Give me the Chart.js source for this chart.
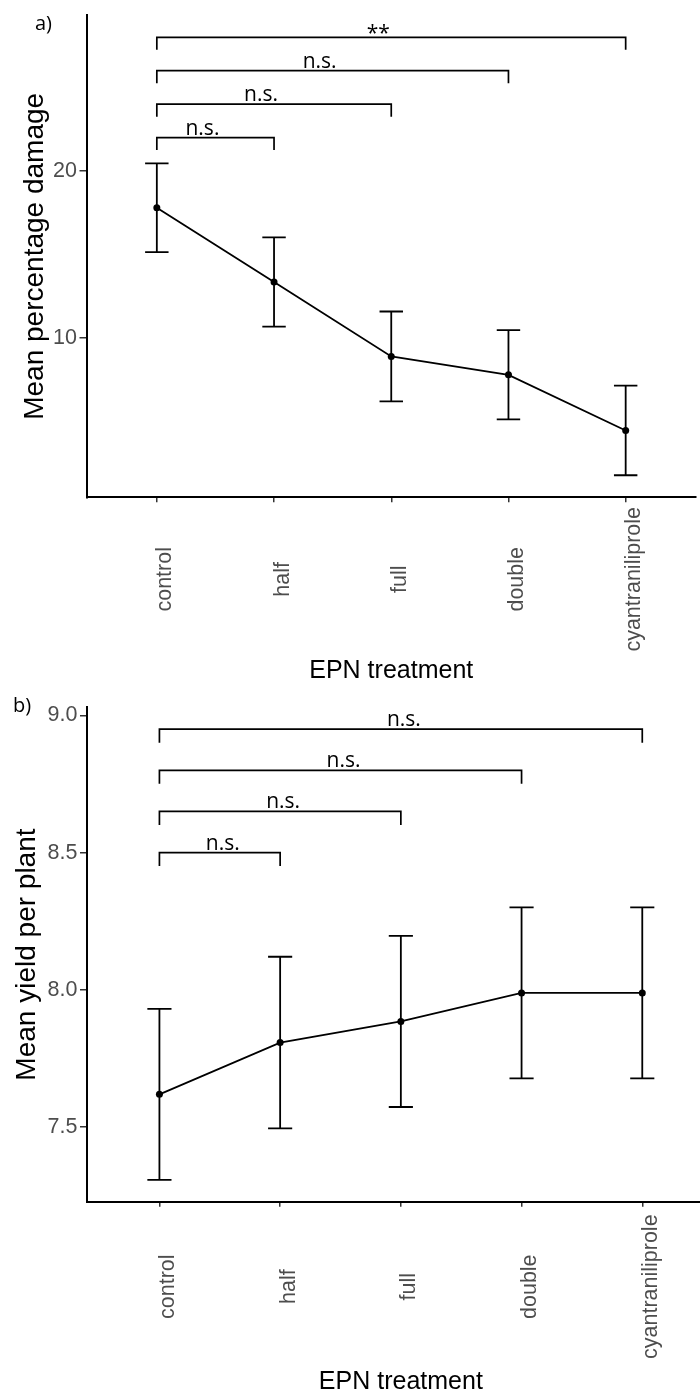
<!DOCTYPE html>
<html>
<head>
<meta charset="utf-8">
<script src="https://cdn.jsdelivr.net/npm/chart.js@4.4.1/dist/chart.umd.min.js"></script>
<style>
  html, body { margin: 0; padding: 0; background: #fff; overflow: hidden; }
  body { width: 700px; height: 1396px; position: relative; }
  canvas { position: absolute; left: 0; }
  #damageChart { top: 0; }
  #yieldChart { top: 692px; }
</style>
</head>
<body>
<canvas id="damageChart" width="700" height="692"></canvas>
<canvas id="yieldChart" width="720" height="704"></canvas>
<script>
const treatments = ['control', 'half', 'full', 'double', 'cyantraniliprole']

// a) damage
const damageMean = [17.8, 13.35, 8.9, 7.8, 4.47]
const damageSE = [2.66, 2.67, 2.69, 2.67, 2.68]
const damageTicks = [10, 20]
const damagePairs = [[0, 1], [0, 2], [0, 3], [0, 4]]
const damageBracketY = [22, 24, 26, 28]
const damageSig = ['n.s.', 'n.s.', 'n.s.', '**']

// b) yield
const yieldMean = [7.618, 7.807, 7.884, 7.988, 7.988]
const yieldSE = [0.312, 0.313, 0.312, 0.312, 0.312]
const yieldTicks = [7.5, 8.0, 8.5, 9.0]
const yieldPairs = [[0, 1], [0, 2], [0, 3], [0, 4]]
const yieldBracketY = [8.5, 8.65, 8.8, 8.95]
const yieldSig = ['n.s.', 'n.s.', 'n.s.', 'n.s.']

const arial = '"Liberation Sans", Arial, sans-serif'
const sigFont = '21px "Open Sans", sans-serif'

const extras = {
    id: 'extras',
    beforeDatasetsDraw(chart, args, o) {
        const ctx = chart.ctx
        const x = chart.scales.x, y = chart.scales.y
        ctx.save()
        ctx.strokeStyle = '#000'
        ctx.lineWidth = 1.8
        o.mean.forEach((m, i) => {
            const px = x.getPixelForValue(i)
            const lo = y.getPixelForValue(m - o.se[i])
            const hi = y.getPixelForValue(m + o.se[i])
            const l = x.getPixelForValue(i - 0.1), r = x.getPixelForValue(i + 0.1)
            ctx.beginPath()
            ctx.moveTo(px, lo); ctx.lineTo(px, hi)
            ctx.moveTo(l, lo); ctx.lineTo(r, lo)
            ctx.moveTo(l, hi); ctx.lineTo(r, hi)
            ctx.stroke()
        })
        ctx.restore()
    },
    afterDraw(chart, args, o) {
        const ctx = chart.ctx
        const x = chart.scales.x, y = chart.scales.y
        ctx.save()
        // significance brackets
        ctx.strokeStyle = '#000'
        ctx.lineWidth = 1.7
        ctx.fillStyle = '#000'
        ctx.font = sigFont
        ctx.textAlign = 'center'
        ctx.textBaseline = 'alphabetic'
        o.pairs.forEach((p, k) => {
            const x1 = x.getPixelForValue(p[0]), x2 = x.getPixelForValue(p[1])
            const py = y.getPixelForValue(o.bracketY[k])
            ctx.beginPath()
            ctx.moveTo(x1, py + o.tip); ctx.lineTo(x1, py)
            ctx.lineTo(x2, py); ctx.lineTo(x2, py + o.tip)
            ctx.stroke()
            const m = ctx.measureText(o.sig[k])
            ctx.fillText(o.sig[k], (x1 + x2) / 2 + o.shift, py - 3 - m.actualBoundingBoxDescent)
        })
        // rotated category labels
        ctx.font = '21.5px ' + arial
        ctx.fillStyle = '#4D4D4D'
        treatments.forEach((t, i) => {
            ctx.save()
            ctx.translate(x.getPixelForValue(i) + 14.5, chart.chartArea.bottom + o.labelMid)
            ctx.rotate(-Math.PI / 2)
            ctx.fillText(t, 0, 0)
            ctx.restore()
        })
        // panel tag
        ctx.font = '20px "Open Sans", sans-serif'
        ctx.fillStyle = '#000'
        ctx.textAlign = 'left'
        ctx.fillText(o.tag, o.tagX, o.tagY)
        ctx.restore()
    }
}

function makeChart(id, o) {
    return new Chart(document.getElementById(id), {
        type: 'line',
        data: {
            datasets: [{
                data: o.mean.map((v, i) => ({ x: i, y: v })),
                borderColor: '#000',
                borderWidth: 1.8,
                pointRadius: 3.5,
                pointBackgroundColor: '#000',
                pointBorderWidth: 0,
                tension: 0
            }]
        },
        options: {
            responsive: false,
            animation: false,
            layout: { padding: o.padding },
            plugins: {
                legend: { display: false },
                tooltip: { enabled: false },
                extras: o
            },
            scales: {
                x: {
                    type: 'linear',
                    min: -0.6,
                    max: 4.6,
                    afterBuildTicks: s => { s.ticks = treatments.map((t, i) => ({ value: i })) },
                    afterFit: s => { s.height = o.xHeight },
                    ticks: { display: false },
                    grid: { drawOnChartArea: false, tickLength: 5, color: '#333', lineWidth: 1.5 },
                    border: { color: '#000', width: 2 },
                    title: {
                        display: true,
                        text: 'EPN treatment',
                        color: '#000',
                        font: { family: arial, size: 25, lineHeight: 1 },
                        padding: { top: 0, bottom: o.xTitlePad }
                    }
                },
                y: {
                    min: o.yMin,
                    max: o.yMax,
                    afterBuildTicks: s => { s.ticks = o.ticks.map(v => ({ value: v })) },
                    afterFit: s => { s.width = o.yWidth },
                    ticks: {
                        color: '#4D4D4D',
                        padding: 2.5,
                        font: { family: arial, size: 21.5 },
                        callback: v => o.fmt(v)
                    },
                    grid: { drawOnChartArea: false, tickLength: 7, color: '#333', lineWidth: 1.5 },
                    border: { color: '#000', width: 2 },
                    title: {
                        display: true,
                        text: o.yTitle,
                        color: '#000',
                        font: { family: arial, size: 28, lineHeight: 1 },
                        padding: { top: o.yTitlePad, bottom: 0 }
                    }
                }
            }
        },
        plugins: [extras]
    })
}

makeChart('damageChart', {
    mean: damageMean, se: damageSE, ticks: damageTicks,
    pairs: damagePairs, bracketY: damageBracketY, sig: damageSig,
    yMin: 0.47, yMax: 29.31,
    fmt: v => String(v),
    yTitle: 'Mean percentage damage',
    padding: { left: 0, right: 2.5, top: 9, bottom: 0 },
    yWidth: 86.5, xHeight: 194.7,
    xTitlePad: 8.2, yTitlePad: 21,
    tip: 12.5, shift: -13, labelMid: 82,
    tag: 'a)', tagX: 35, tagY: 30
})

makeChart('yieldChart', {
    mean: yieldMean, se: yieldSE, ticks: yieldTicks,
    pairs: yieldPairs, bracketY: yieldBracketY, sig: yieldSig,
    yMin: 7.2265, yMax: 9.0296,
    fmt: v => v.toFixed(1),
    yTitle: 'Mean yield per plant',
    padding: { left: 0, right: 5.3, top: 4, bottom: 0 },
    yWidth: 87, xHeight: 194.3,
    xTitlePad: 1.5, yTitlePad: 13,
    tip: 13.5, shift: 3, labelMid: 85,
    tag: 'b)', tagX: 13, tagY: 20
})
</script>
</body>
</html>
